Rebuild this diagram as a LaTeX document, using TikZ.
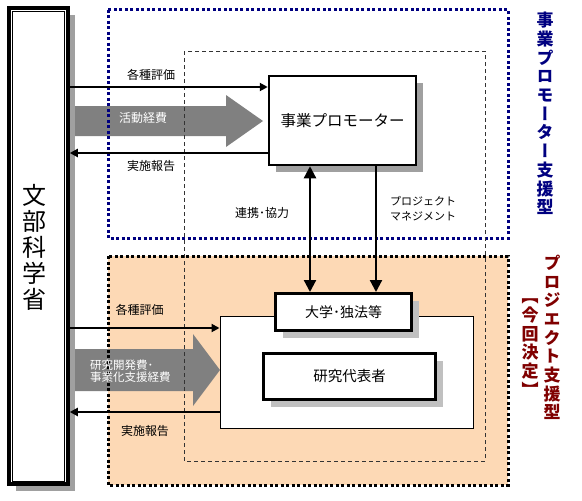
\documentclass[tikz,border=0pt]{standalone}
\usepackage{fontspec}
\setmainfont{Noto Sans CJK JP}
\newfontfamily\vjp[RawFeature=+vert]{Noto Sans CJK JP}
\usetikzlibrary{arrows.meta}
\definecolor{navyc}{HTML}{000080}
\definecolor{dredc}{HTML}{800000}
\definecolor{peach}{HTML}{FDD9B5}
\definecolor{arrgray}{HTML}{808080}
\definecolor{shad}{HTML}{A0A0A0}
\definecolor{shadl}{HTML}{C0C0C0}
\tikzset{
  shadowed/.style={preaction={fill=#1, draw=none, transform canvas={shift={(7pt,-7pt)}}}},
  boxthick/.style={draw, fill=white, line width=2.5pt, inner sep=0pt},
  lbl/.style={font=\fontsize{12}{13}\selectfont, inner sep=0pt},
  wlbl/.style={lbl, text=white},
  harr/.style={line width=2.2pt, -{Triangle[width=8pt,length=8pt]}},
  varrow/.style={line width=2.2pt, -{Triangle[width=12pt,length=12pt]}},
  bigarrow/.style={fill=arrgray, draw=none},
  vtitle/.style={align=center, inner sep=0pt, font=\vjp\bfseries\fontsize{17}{18.7}\selectfont},
}
\begin{document}
\begin{tikzpicture}[x=1pt,y=-1pt]
\useasboundingbox (0,0) rectangle (582,501);
\fill[white] (0,0) rectangle (582,501);

% peach region
\fill[peach] (108,256) rectangle (508,485);

% big gray arrows
\fill[bigarrow] (70,106) -- (226,106) -- (226,95) -- (263,121) -- (226,147) -- (226,136) -- (70,136) -- cycle;
\fill[bigarrow] (70,349) -- (193,349) -- (193,334) -- (220,370) -- (193,406) -- (193,391) -- (70,391) -- cycle;

% frames
\draw[navyc, line width=3pt, dash pattern=on 3pt off 2.5pt] (108,9.5) rectangle (508,238);
\draw[black, line width=3pt, dash pattern=on 3pt off 2.5pt] (108,256) rectangle (508,485);
\draw[black!80, line width=1pt, dash pattern=on 4pt off 3pt] (184,51) rectangle (485,461);

% MEXT box
\node[draw, fill=white, line width=3.5pt, inner sep=0pt, minimum width=58.8pt, minimum height=476pt, shadowed=shad] (mext) at (38.6,246) {};
\draw[line width=1pt] (12.5,11.3) rectangle (64.5,481);
\node[inner sep=0pt, align=center, font=\fontsize{24}{26}\selectfont] (mextlbl) at (34,247) {文\\部\\科\\学\\省};

% boxes
\node[boxthick, minimum width=147pt, minimum height=89pt, shadowed=shad, font=\fontsize{15.5}{17}\selectfont] (promo) at (342.5,120.5) {事業プロモーター};
\node[draw, fill=white, line width=1pt, inner sep=0pt, minimum width=253pt, minimum height=112pt] (wbox) at (346.5,372) {};
\node[boxthick, line width=3pt, minimum width=136pt, minimum height=37pt, shadowed=shadl, font=\fontsize{14}{15}\selectfont] (uni) at (343.5,312) {大学･独法等};
\node[boxthick, line width=3pt, minimum width=172pt, minimum height=46pt, shadowed=shadl, font=\fontsize{14.5}{16}\selectfont] (rep) at (349.5,376.5) {研究代表者};

% horizontal arrows
\draw[harr] (mext.east |- 0,87) -- (promo.west |- 0,87);
\draw[harr] (promo.west |- 0,153) -- (mext.east |- 0,153);
\draw[harr] (mext.east |- 0,328) -- (wbox.west |- 0,328);
\draw[harr] (wbox.west |- 0,412) -- (mext.east |- 0,412);

% vertical arrows
\draw[varrow, {Triangle[width=12pt,length=12pt]}-{Triangle[width=12pt,length=12pt]}] (promo.south -| 310,0) -- (uni.north -| 310,0);
\draw[varrow] (promo.south -| 376,0) -- (uni.north -| 376,0);

% labels
\node[lbl] (l1) at (151,75) {各種評価};
\node[wlbl] (l2) at (143,118) {活動経費};
\node[lbl] (l3) at (151,166) {実施報告};
\node[lbl] (l4) at (262,213) {連携･協力};
\node[lbl, align=left, anchor=west, font=\fontsize{11}{15}\selectfont] (l5) at (390,208.5) {プロジェクト\\マネジメント};
\node[lbl] (l6) at (139.5,310) {各種評価};
\node[wlbl, align=left, anchor=west, font=\fontsize{11.5}{12.5}\selectfont] (l7) at (90,371) {研究開発費･\\事業化支援経費};
\node[lbl] (l8) at (145,431) {実施報告};

% vertical titles
\node[vtitle, text=navyc] (t1) at (545,113.5) {事\\業\\プ\\ロ\\モ\\ー\\タ\\ー\\支\\援\\型};
\node[vtitle, text=dredc] (t2) at (552,337.5) {プ\\ロ\\ジ\\エ\\ク\\ト\\支\\援\\型};
\node[vtitle, text=dredc] (t3) at (530,347.5) {【\\今\\回\\決\\定\\】};
\end{tikzpicture}
\end{document}
